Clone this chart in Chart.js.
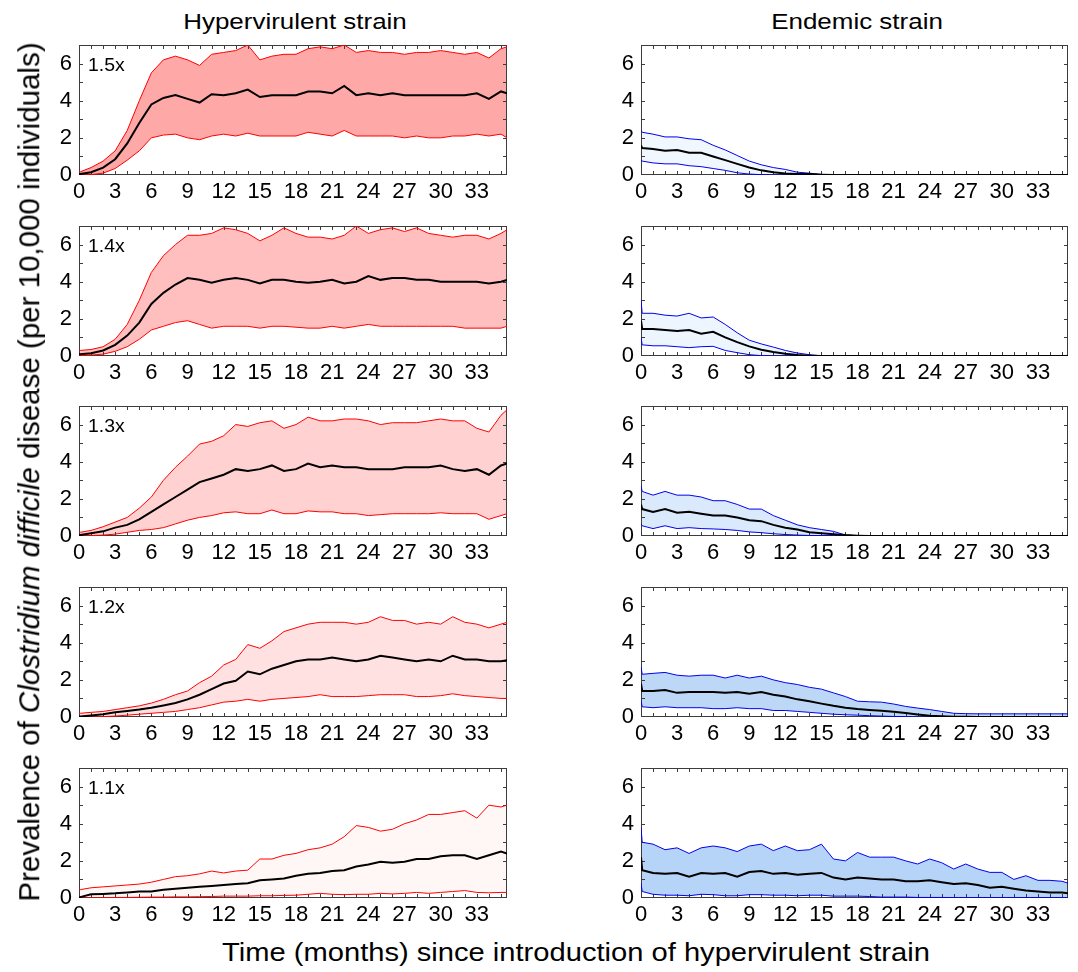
<!DOCTYPE html>
<html>
<head>
<meta charset="utf-8">
<script src="https://cdn.jsdelivr.net/npm/chart.js@4.4.0/dist/chart.umd.min.js"></script>
<style>
  html, body { margin: 0; padding: 0; background: #fff; }
  #stage { position: relative; width: 1078px; height: 972px; overflow: hidden; background: #fff;
           font-family: 'Liberation Sans', Arial, Helvetica, sans-serif; color: #000; }
  canvas { position: absolute; }
  .txt { position: absolute; white-space: nowrap; line-height: 1; }
  .title { font-size: 22px; transform: translate(-50%, -50%) scaleX(1.18); }
  .xtitle { font-size: 26px; transform: translate(-50%, -50%) scaleX(1.12); }
  .ytitle { font-size: 29.5px; transform: translate(-50%, -50%) rotate(-90deg); }
  .plab { font-size: 18px; transform: translateY(-50%) scaleX(1.08); transform-origin: left center; }
</style>
</head>
<body>
<div id="stage"></div>
<script>
// ---------------- data ----------------
const months = [0, 0.1, 1, 2, 3, 4, 5, 6, 7, 8, 9, 10, 11, 12, 13, 14, 15, 16, 17, 18, 19, 20,
  21, 22, 23, 24, 25, 26, 27, 28, 29, 30, 31, 32, 33, 34, 35, 35.5];
const xTickValues = [0, 3, 6, 9, 12, 15, 18, 21, 24, 27, 30, 33];
const xTickLabels = ['0', '3', '6', '9', '12', '15', '18', '21', '24', '27', '30', '33'];
const yTickValues = [0, 2, 4, 6];
const yTickLabels = ['0', '2', '4', '6'];
const xMinorTicks = [1, 2, 3, 4, 5, 6, 7, 8, 9, 10, 11, 12, 13, 14, 15, 16, 17, 18, 19, 20,
  21, 22, 23, 24, 25, 26, 27, 28, 29, 30, 31, 32, 33, 34, 35];
const yMinorTicks = [1, 2, 3, 4, 5, 6];
const rowLabels = ['1.5x', '1.4x', '1.3x', '1.2x', '1.1x'];
const colTitles = ['Hypervirulent strain', 'Endemic strain'];
const xAxisTitle = 'Time (months) since introduction of hypervirulent strain';

// Hypervirulent strain
const hyper15Upper = [0.15, 0.17, 0.4, 0.75, 1.3, 2.4, 4.0, 5.5, 6.2, 6.4, 6.2, 5.9, 6.5, 6.6, 6.7, 7.0, 6.2, 6.4, 6.5, 6.5, 6.8, 6.9, 6.8, 7.0, 6.6, 6.7, 6.6, 6.6, 6.5, 6.6, 6.6, 6.7, 6.6, 6.5, 6.6, 6.3, 6.8, 6.9];
const hyper15Median = [0.05, 0.05, 0.15, 0.4, 0.85, 1.7, 2.8, 3.8, 4.15, 4.3, 4.1, 3.9, 4.35, 4.3, 4.4, 4.6, 4.2, 4.3, 4.3, 4.3, 4.5, 4.5, 4.4, 4.8, 4.3, 4.4, 4.3, 4.4, 4.3, 4.3, 4.3, 4.3, 4.3, 4.3, 4.4, 4.1, 4.5, 4.4];
const hyper15Lower = [0, 0, 0.02, 0.1, 0.35, 0.8, 1.3, 2.0, 2.15, 2.2, 2.0, 1.9, 2.1, 2.2, 2.1, 2.25, 2.1, 2.1, 2.1, 2.1, 2.3, 2.2, 2.1, 2.4, 2.1, 2.1, 2.1, 2.1, 2.0, 2.1, 2.0, 2.0, 2.1, 2.1, 2.2, 2.1, 2.2, 2.0];

const hyper14Upper = [0.3, 0.3, 0.35, 0.5, 0.9, 1.7, 3.0, 4.5, 5.4, 6.0, 6.5, 6.5, 6.6, 6.9, 6.8, 6.6, 6.2, 6.5, 6.9, 6.6, 6.4, 6.4, 6.3, 6.5, 7.0, 6.6, 6.8, 6.9, 6.7, 6.9, 6.6, 6.5, 6.4, 6.5, 6.5, 6.3, 6.6, 6.8];
const hyper14Median = [0.1, 0.1, 0.15, 0.3, 0.6, 1.1, 1.8, 2.8, 3.4, 3.85, 4.2, 4.1, 3.95, 4.1, 4.2, 4.1, 3.9, 4.1, 4.1, 4.0, 3.95, 4.0, 4.1, 3.9, 4.0, 4.3, 4.1, 4.2, 4.2, 4.1, 4.1, 4.0, 4.0, 4.0, 4.0, 3.9, 4.0, 4.1];
const hyper14Lower = [0.02, 0.02, 0.05, 0.1, 0.25, 0.5, 0.9, 1.4, 1.6, 1.8, 1.9, 1.7, 1.5, 1.6, 1.6, 1.6, 1.5, 1.6, 1.6, 1.55, 1.5, 1.5, 1.6, 1.5, 1.6, 1.7, 1.6, 1.6, 1.6, 1.6, 1.6, 1.6, 1.6, 1.5, 1.5, 1.5, 1.5, 1.6];

const hyper13Upper = [0.2, 0.2, 0.3, 0.5, 0.75, 1.0, 1.5, 2.1, 3.0, 3.7, 4.3, 4.95, 5.1, 5.4, 6.0, 5.9, 6.1, 6.2, 5.8, 6.0, 6.4, 6.2, 6.2, 6.3, 6.3, 6.2, 6.0, 6.1, 6.1, 6.1, 6.2, 6.3, 6.2, 6.2, 5.8, 5.6, 6.5, 6.8];
const hyper13Median = [0.05, 0.05, 0.15, 0.25, 0.45, 0.6, 0.9, 1.3, 1.7, 2.1, 2.5, 2.9, 3.1, 3.3, 3.6, 3.5, 3.6, 3.8, 3.5, 3.6, 3.9, 3.7, 3.8, 3.7, 3.7, 3.6, 3.6, 3.6, 3.7, 3.7, 3.7, 3.8, 3.6, 3.5, 3.6, 3.3, 3.8, 3.9];
const hyper13Lower = [0, 0, 0.02, 0.05, 0.1, 0.2, 0.3, 0.35, 0.45, 0.65, 0.85, 1.0, 1.1, 1.25, 1.3, 1.2, 1.2, 1.4, 1.2, 1.2, 1.35, 1.3, 1.3, 1.2, 1.2, 1.1, 1.15, 1.2, 1.2, 1.2, 1.2, 1.25, 1.2, 1.2, 1.2, 0.9, 1.1, 1.2];

const hyper12Upper = [0.2, 0.2, 0.25, 0.3, 0.4, 0.5, 0.6, 0.75, 0.95, 1.2, 1.4, 1.85, 2.2, 2.8, 3.1, 3.9, 3.7, 4.1, 4.6, 4.8, 5.0, 5.1, 5.1, 5.1, 5.0, 5.1, 5.4, 5.2, 5.2, 5.0, 5.1, 5.0, 5.4, 5.1, 5.0, 4.8, 5.0, 5.1];
const hyper12Median = [0.03, 0.03, 0.08, 0.15, 0.25, 0.32, 0.4, 0.5, 0.62, 0.75, 0.95, 1.2, 1.5, 1.8, 1.95, 2.45, 2.3, 2.6, 2.8, 3.0, 3.1, 3.1, 3.2, 3.1, 3.0, 3.1, 3.3, 3.2, 3.1, 3.0, 3.1, 3.0, 3.3, 3.1, 3.1, 3.0, 3.0, 3.05];
const hyper12Lower = [0, 0, 0, 0.02, 0.05, 0.1, 0.15, 0.2, 0.25, 0.3, 0.4, 0.5, 0.65, 0.8, 0.85, 0.95, 0.85, 0.95, 1.0, 1.05, 1.1, 1.2, 1.1, 1.1, 1.1, 1.15, 1.2, 1.2, 1.2, 1.1, 1.1, 1.15, 1.25, 1.15, 1.1, 1.05, 1.0, 1.0];

const hyper11Upper = [0.45, 0.45, 0.55, 0.6, 0.65, 0.7, 0.75, 0.85, 1.0, 1.15, 1.2, 1.3, 1.45, 1.35, 1.45, 1.5, 2.1, 2.1, 2.3, 2.4, 2.6, 2.7, 2.9, 3.3, 3.9, 3.8, 3.6, 3.7, 4.0, 4.2, 4.5, 4.5, 4.6, 4.7, 4.3, 5.0, 4.9, 5.0];
const hyper11Median = [0.02, 0.05, 0.2, 0.22, 0.25, 0.3, 0.35, 0.35, 0.45, 0.5, 0.55, 0.6, 0.65, 0.7, 0.75, 0.8, 0.95, 1.0, 1.05, 1.2, 1.3, 1.35, 1.45, 1.5, 1.7, 1.8, 1.95, 1.9, 1.95, 2.1, 2.1, 2.25, 2.3, 2.3, 2.1, 2.3, 2.5, 2.4];
const hyper11Lower = [0, 0, 0.01, 0.02, 0.03, 0.03, 0.04, 0.05, 0.05, 0.06, 0.06, 0.07, 0.08, 0.1, 0.1, 0.1, 0.12, 0.12, 0.14, 0.15, 0.2, 0.25, 0.2, 0.18, 0.2, 0.2, 0.25, 0.22, 0.25, 0.3, 0.25, 0.3, 0.35, 0.4, 0.3, 0.28, 0.3, 0.3];

// Endemic strain
const endemic15Upper = [2.4, 2.3, 2.2, 2.05, 2.05, 1.95, 1.9, 1.6, 1.35, 1.05, 0.75, 0.55, 0.4, 0.3, 0.15, 0.1, 0.03, 0.01, 0, 0, 0, 0, 0, 0, 0, 0, 0, 0, 0, 0, 0, 0, 0, 0, 0, 0, 0, 0];
const endemic15Median = [1.6, 1.45, 1.4, 1.3, 1.35, 1.2, 1.2, 1.0, 0.8, 0.6, 0.4, 0.25, 0.15, 0.08, 0.05, 0.05, 0.02, 0, 0, 0, 0, 0, 0, 0, 0, 0, 0, 0, 0, 0, 0, 0, 0, 0, 0, 0, 0, 0];
const endemic15Lower = [0.8, 0.75, 0.65, 0.6, 0.6, 0.5, 0.45, 0.35, 0.25, 0.12, 0.05, 0.02, 0, 0, 0, 0, 0, 0, 0, 0, 0, 0, 0, 0, 0, 0, 0, 0, 0, 0, 0, 0, 0, 0, 0, 0, 0, 0];

const endemic14Upper = [3.0, 2.3, 2.3, 2.2, 2.15, 2.3, 2.05, 2.1, 1.7, 1.25, 0.85, 0.65, 0.48, 0.3, 0.16, 0.07, 0.01, 0, 0, 0, 0, 0, 0, 0, 0, 0, 0, 0, 0, 0, 0, 0, 0, 0, 0, 0, 0, 0];
const endemic14Median = [1.9, 1.45, 1.45, 1.4, 1.35, 1.4, 1.2, 1.3, 1.0, 0.75, 0.52, 0.34, 0.21, 0.12, 0.05, 0.02, 0, 0, 0, 0, 0, 0, 0, 0, 0, 0, 0, 0, 0, 0, 0, 0, 0, 0, 0, 0, 0, 0];
const endemic14Lower = [1.0, 0.6, 0.55, 0.55, 0.5, 0.45, 0.5, 0.52, 0.3, 0.18, 0.07, 0.02, 0, 0, 0, 0, 0, 0, 0, 0, 0, 0, 0, 0, 0, 0, 0, 0, 0, 0, 0, 0, 0, 0, 0, 0, 0, 0];

const endemic13Upper = [2.7, 2.4, 2.2, 2.4, 2.2, 2.2, 2.1, 1.9, 1.9, 1.7, 1.45, 1.45, 1.1, 0.85, 0.6, 0.45, 0.35, 0.25, 0.05, 0.02, 0.01, 0, 0, 0, 0, 0, 0, 0, 0, 0, 0, 0, 0, 0, 0, 0, 0, 0];
const endemic13Median = [1.7, 1.45, 1.3, 1.45, 1.25, 1.3, 1.2, 1.1, 1.1, 1.0, 0.85, 0.8, 0.6, 0.45, 0.35, 0.2, 0.15, 0.1, 0.05, 0.02, 0, 0, 0, 0, 0, 0, 0, 0, 0, 0, 0, 0, 0, 0, 0, 0, 0, 0];
const endemic13Lower = [0.65, 0.55, 0.4, 0.55, 0.4, 0.45, 0.4, 0.38, 0.35, 0.3, 0.22, 0.18, 0.12, 0.08, 0.05, 0.03, 0.02, 0.01, 0, 0, 0, 0, 0, 0, 0, 0, 0, 0, 0, 0, 0, 0, 0, 0, 0, 0, 0, 0];

const endemic12Upper = [2.7, 2.3, 2.35, 2.4, 2.25, 2.2, 2.25, 2.25, 2.1, 2.25, 2.1, 2.2, 2.0, 1.85, 1.75, 1.6, 1.5, 1.3, 1.1, 0.85, 0.82, 0.8, 0.7, 0.57, 0.48, 0.4, 0.3, 0.2, 0.18, 0.17, 0.17, 0.17, 0.17, 0.17, 0.17, 0.17, 0.17, 0.17];
const endemic12Median = [1.8, 1.4, 1.4, 1.45, 1.3, 1.35, 1.35, 1.35, 1.3, 1.35, 1.25, 1.35, 1.2, 1.1, 0.95, 0.85, 0.72, 0.6, 0.5, 0.43, 0.38, 0.34, 0.28, 0.21, 0.13, 0.07, 0.04, 0.02, 0.01, 0, 0, 0, 0, 0, 0, 0, 0, 0];
const endemic12Lower = [0.9, 0.55, 0.5, 0.55, 0.5, 0.5, 0.5, 0.45, 0.45, 0.5, 0.45, 0.45, 0.35, 0.35, 0.3, 0.25, 0.2, 0.15, 0.12, 0.1, 0.07, 0.05, 0.03, 0.02, 0, 0, 0, 0, 0, 0, 0, 0, 0, 0, 0, 0, 0, 0];

const endemic11Upper = [3.8, 3.0, 2.9, 2.6, 2.7, 2.4, 2.7, 2.8, 2.7, 2.5, 2.8, 2.9, 2.55, 2.8, 2.55, 2.6, 2.9, 2.1, 2.0, 2.45, 2.2, 2.2, 2.2, 2.0, 1.83, 2.1, 1.9, 1.56, 1.83, 1.56, 1.38, 1.38, 1.0, 1.2, 0.95, 0.95, 0.9, 0.8];
const endemic11Median = [2.2, 1.5, 1.35, 1.3, 1.35, 1.15, 1.35, 1.3, 1.35, 1.15, 1.4, 1.45, 1.3, 1.35, 1.25, 1.3, 1.35, 1.1, 1.0, 1.1, 1.05, 1.0, 1.0, 0.9, 0.9, 0.95, 0.85, 0.75, 0.8, 0.7, 0.55, 0.6, 0.5, 0.4, 0.35, 0.3, 0.3, 0.25];
const endemic11Lower = [0.8, 0.35, 0.2, 0.15, 0.15, 0.12, 0.2, 0.18, 0.12, 0.12, 0.18, 0.18, 0.15, 0.15, 0.12, 0.15, 0.15, 0.1, 0.1, 0.1, 0.08, 0.05, 0.05, 0.05, 0.03, 0.03, 0.03, 0.02, 0.02, 0.02, 0.02, 0.02, 0.02, 0.02, 0.02, 0.02, 0.02, 0.02];

// ---------------- layout & style ----------------
const panels = [
  [hyper15Upper, hyper15Median, hyper15Lower, endemic15Upper, endemic15Median, endemic15Lower],
  [hyper14Upper, hyper14Median, hyper14Lower, endemic14Upper, endemic14Median, endemic14Lower],
  [hyper13Upper, hyper13Median, hyper13Lower, endemic13Upper, endemic13Median, endemic13Lower],
  [hyper12Upper, hyper12Median, hyper12Lower, endemic12Upper, endemic12Median, endemic12Lower],
  [hyper11Upper, hyper11Median, hyper11Lower, endemic11Upper, endemic11Median, endemic11Lower]
];
const plotTops = [45, 226, 406, 587, 768];
const PLOT_H = 130;
const PAD_TOP = 6, PAD_RIGHT = 8, Y_AXIS_W = 40, X_AXIS_H = 30;
const colGeom = [{ left: 79, width: 428 }, { left: 641, width: 427 }];
const lineColors = ['#ff0000', '#0000ee'];
const fillColors = [
  ['#ffa8a8', '#ffbfbf', '#ffd1d1', '#ffe1e1', '#fff6f6'],
  ['#f1f7ff', '#edf5ff', '#dae9fb', '#bdd8f6', '#b6d3f8']
];

Chart.defaults.font.family = "'Liberation Sans', Arial, Helvetica, sans-serif";
Chart.defaults.font.size = 22;
Chart.defaults.color = '#000';

const frameTicks = {
  id: 'frameTicks',
  beforeDatasetsDraw(chart) {
    const { ctx, chartArea: a, scales: { x, y } } = chart;
    ctx.save();
    ctx.strokeStyle = '#3c3c3c';
    ctx.lineWidth = 1;
    const L = 4;
    ctx.beginPath();
    xMinorTicks.forEach(v => {
      const px = Math.round(x.getPixelForValue(v)) + 0.5;
      ctx.moveTo(px, a.bottom); ctx.lineTo(px, a.bottom - L);
      ctx.moveTo(px, a.top); ctx.lineTo(px, a.top + L);
    });
    yMinorTicks.forEach(v => {
      const py = Math.round(y.getPixelForValue(v)) + 0.5;
      ctx.moveTo(a.left, py); ctx.lineTo(a.left + L, py);
      ctx.moveTo(a.right, py); ctx.lineTo(a.right - L, py);
    });
    ctx.stroke();
    ctx.strokeRect(Math.round(a.left) + 0.5, Math.round(a.top) + 0.5,
      Math.round(a.right - a.left) - 1, Math.round(a.bottom - a.top) - 1);
    ctx.restore();
  }
};

const stage = document.getElementById('stage');
function pts(vals) { return months.map((m, i) => ({ x: m, y: vals[i] })); }
function noPad(s) { s.paddingTop = 0; s.paddingBottom = 0; s.paddingLeft = 0; s.paddingRight = 0; }

panels.forEach((row, r) => {
  [0, 1].forEach(c => {
    const up = row[c * 3], med = row[c * 3 + 1], lo = row[c * 3 + 2];
    const g = colGeom[c];
    const cv = document.createElement('canvas');
    const W = Y_AXIS_W + g.width + PAD_RIGHT;
    const H = PAD_TOP + PLOT_H + X_AXIS_H;
    cv.width = W; cv.height = H;
    cv.style.width = W + 'px'; cv.style.height = H + 'px';
    cv.style.left = (g.left - Y_AXIS_W) + 'px';
    cv.style.top = (plotTops[r] - PAD_TOP) + 'px';
    stage.appendChild(cv);
    const chart = new Chart(cv, {
      type: 'line',
      data: {
        datasets: [
          { data: pts(med), borderColor: '#000', borderWidth: 2, pointRadius: 0, fill: false, tension: 0 },
          { data: pts(up), borderColor: lineColors[c], borderWidth: 1, pointRadius: 0, tension: 0,
            fill: { target: '+1' }, backgroundColor: fillColors[c][r] },
          { data: pts(lo), borderColor: lineColors[c], borderWidth: 1, pointRadius: 0, fill: false, tension: 0 }
        ]
      },
      options: {
        responsive: false, animation: false, events: [], devicePixelRatio: 1,
        layout: { padding: { top: PAD_TOP, right: PAD_RIGHT, left: 0, bottom: 0 } },
        plugins: { legend: { display: false }, tooltip: { enabled: false },
          filler: { drawTime: 'beforeDatasetsDraw', propagate: false } },
        scales: {
          x: {
            type: 'linear', min: 0, max: 35.5,
            grid: { display: false, drawTicks: false }, border: { display: false },
            ticks: { padding: 4, maxRotation: 0, autoSkip: false,
              callback: (v, i) => xTickLabels[i] },
            afterBuildTicks: s => { s.ticks = xTickValues.map(v => ({ value: v })); },
            afterFit: s => { s.height = X_AXIS_H; noPad(s); }
          },
          y: {
            min: 0, max: 7,
            grid: { display: false, drawTicks: false }, border: { display: false },
            ticks: { padding: 7, callback: (v, i) => yTickLabels[i] },
            afterBuildTicks: s => { s.ticks = yTickValues.map(v => ({ value: v })); },
            afterFit: s => { s.width = Y_AXIS_W; noPad(s); }
          }
        }
      },
      plugins: [frameTicks]
    });
    // keep the plot area exactly where the reference has it
    let a = chart.chartArea;
    const dh = PLOT_H - (a.bottom - a.top), dw = g.width - (a.right - a.left);
    if (Math.abs(dh) > 0.5 || Math.abs(dw) > 0.5) {
      chart.resize(W + dw, H + dh);
      a = chart.chartArea;
    }
    cv.style.left = (g.left - a.left) + 'px';
    cv.style.top = (plotTops[r] - a.top) + 'px';
    if (c === 0) {
      const lab = document.createElement('div');
      lab.className = 'txt plab';
      lab.textContent = rowLabels[r];
      lab.style.left = '88px';
      lab.style.top = (plotTops[r] + 20) + 'px';
      stage.appendChild(lab);
    }
  });
});

function addText(cls, text, x, y) {
  const d = document.createElement('div');
  d.className = 'txt ' + cls;
  d.style.left = x + 'px'; d.style.top = y + 'px';
  if (typeof text === 'string') d.textContent = text; else d.innerHTML = text.html;
  stage.appendChild(d);
}
addText('title', colTitles[0], 295, 22);
addText('title', colTitles[1], 857, 22);
addText('xtitle', xAxisTitle, 576, 952);
addText('ytitle', { html: 'Prevalence of <i>Clostridium difficile</i> disease (per 10,000 individuals)' }, 29, 472);
</script>
</body>
</html>
